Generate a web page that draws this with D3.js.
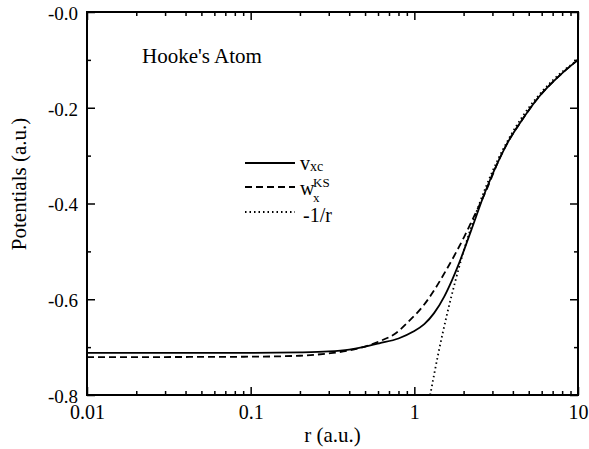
<!DOCTYPE html>
<html>
<head>
<meta charset="utf-8">
<script src="https://cdn.jsdelivr.net/npm/d3@7"></script>
<style>
  body { margin: 0; background: #fff; }
  text { font-family: "Liberation Serif", "Times New Roman", serif; fill: #000; }
</style>
</head>
<body>
<div id="chart"></div>
<script>
// values
var rVxc = [0.01, 0.03, 0.1, 0.2, 0.3, 0.4, 0.5, 0.61, 0.8, 0.98, 1.15, 1.32, 1.52, 1.7, 1.88, 2.23, 2.7, 3.3, 3.8, 4.37, 5.78, 7.65, 10];
var vxc  = [-0.712, -0.712, -0.712, -0.711, -0.709, -0.705, -0.699, -0.692, -0.682, -0.668, -0.652, -0.629, -0.595, -0.560, -0.524, -0.455, -0.377, -0.308, -0.267, -0.2345, -0.177, -0.134, -0.1];

var rWks = [0.01, 0.1, 0.2, 0.3, 0.4, 0.5, 0.61, 0.77, 0.95, 1.12, 1.3, 1.56, 1.8, 2.02, 2.22, 2.74, 3.3, 3.8, 4.37, 5.78, 7.65, 10];
var wks  = [-0.721, -0.720, -0.718, -0.713, -0.707, -0.699, -0.688, -0.671, -0.642, -0.616, -0.585, -0.540, -0.502, -0.469, -0.440, -0.374, -0.308, -0.267, -0.2345, -0.177, -0.134, -0.1];

var rCoul = [1.25, 1.4, 1.6, 1.8, 2, 2.5, 3, 4, 5, 6, 7, 8, 10];
var coul  = [-0.8, -0.714, -0.625, -0.556, -0.5, -0.4, -0.333, -0.25, -0.2, -0.167, -0.143, -0.125, -0.1];

var xTicks = [0.01, 0.1, 1, 10];
var xTickLabels = ["0.01", "0.1", "1", "10"];
var yTicks = [-0.8, -0.6, -0.4, -0.2, 0];
var yTickLabels = ["-0.8", "-0.6", "-0.4", "-0.2", "-0.0"];
var yMinor = [-0.7, -0.5, -0.3, -0.1];

var W = 589, H = 449;
var margin = {left: 87, top: 12, right: 11, bottom: 54};
var width = W - margin.left - margin.right;
var height = H - margin.top - margin.bottom;

var svg = d3.select("#chart")
  .append("svg")
    .attr("width", W)
    .attr("height", H)
  .append("g")
    .attr("transform", "translate(" + margin.left + "," + margin.top + ")");

var x = d3.scaleLog()
  .domain([0.01, 10])
  .range([0, width]);

var y = d3.scaleLinear()
  .domain([-0.8, 0])
  .range([height, 0]);

// minor log ticks
var xMinor = [];
[0.01, 0.1, 1].forEach(function (dec) {
  for (var k = 2; k <= 9; k++) xMinor.push(dec * k);
});

function styleAxis(g) {
  g.select(".domain").remove();
  g.selectAll("line").attr("stroke", "#000").attr("stroke-width", 1.5);
}

// bottom
svg.append("g")
  .attr("transform", "translate(0," + height + ")")
  .call(d3.axisBottom(x).tickValues(xTicks).tickSize(-8).tickPadding(10)
    .tickFormat(function (d, i) { return xTickLabels[i]; }))
  .call(styleAxis)
  .selectAll("text").style("font-size", "20px");
svg.append("g")
  .attr("transform", "translate(0," + height + ")")
  .call(d3.axisBottom(x).tickValues(xMinor).tickSize(-4).tickFormat(""))
  .call(styleAxis);
// top
svg.append("g")
  .call(d3.axisTop(x).tickValues(xTicks).tickSize(-8).tickFormat(""))
  .call(styleAxis);
svg.append("g")
  .call(d3.axisTop(x).tickValues(xMinor).tickSize(-4).tickFormat(""))
  .call(styleAxis);
// left
svg.append("g")
  .call(d3.axisLeft(y).tickValues(yTicks).tickSize(-8).tickPadding(9)
    .tickFormat(function (d, i) { return yTickLabels[i]; }))
  .call(styleAxis)
  .selectAll("text").style("font-size", "19px").attr("dy", "0.39em");
svg.append("g")
  .call(d3.axisLeft(y).tickValues(yMinor).tickSize(-4).tickFormat(""))
  .call(styleAxis);
// right
svg.append("g")
  .attr("transform", "translate(" + width + ",0)")
  .call(d3.axisRight(y).tickValues(yTicks).tickSize(-8).tickFormat(""))
  .call(styleAxis);
svg.append("g")
  .attr("transform", "translate(" + width + ",0)")
  .call(d3.axisRight(y).tickValues(yMinor).tickSize(-4).tickFormat(""))
  .call(styleAxis);

// frame
svg.append("rect")
  .attr("width", width)
  .attr("height", height)
  .attr("fill", "none")
  .attr("stroke", "#000")
  .attr("stroke-width", 2);

var line = d3.line()
  .x(function (d) { return x(d[0]); })
  .y(function (d) { return y(d[1]); })
  .curve(d3.curveMonotoneX);

function pairs(rs, vs) { return rs.map(function (r, i) { return [r, vs[i]]; }); }

svg.append("path")
  .datum(pairs(rCoul, coul))
  .attr("fill", "none").attr("stroke", "#000")
  .attr("stroke-width", 1.8).attr("stroke-dasharray", "1.5,3")
  .attr("d", line);

svg.append("path")
  .datum(pairs(rWks, wks))
  .attr("fill", "none").attr("stroke", "#000")
  .attr("stroke-width", 1.8).attr("stroke-dasharray", "7,4")
  .attr("d", line);

svg.append("path")
  .datum(pairs(rVxc, vxc))
  .attr("fill", "none").attr("stroke", "#000")
  .attr("stroke-width", 1.8)
  .attr("d", line);

// title inside the plot
svg.append("text")
  .attr("x", 142 - margin.left)
  .attr("y", 63 - margin.top)
  .style("font-size", "21px")
  .text("Hooke's Atom");

// legend
var legend = svg.append("g")
  .attr("transform", "translate(" + (245 - margin.left) + "," + (163 - margin.top) + ")");
var dashes = [null, "7,4", "1.5,3"];
[0, 24, 49].forEach(function (dy, i) {
  legend.append("line")
    .attr("x1", 0).attr("x2", 50)
    .attr("y1", dy).attr("y2", dy)
    .attr("stroke", "#000").attr("stroke-width", 1.8)
    .attr("stroke-dasharray", dashes[i]);
});
function label(tx, ty, size, str) {
  legend.append("text").attr("x", tx).attr("y", ty).style("font-size", size + "px").text(str);
}
label(55, 7, 20, "v");
label(65, 8, 14, "xc");
label(55, 32, 20, "w");
label(68, 39, 13, "x");
label(68, 24, 13, "KS");
label(58, 59, 20, "-1/r");

// axis titles
svg.append("text")
  .attr("x", width / 2)
  .attr("y", height + 47)
  .attr("text-anchor", "middle")
  .style("font-size", "21px")
  .text("r (a.u.)");

svg.append("text")
  .attr("transform", "translate(" + (26 - margin.left) + "," + (184 - margin.top) + ") rotate(-90)")
  .attr("text-anchor", "middle")
  .style("font-size", "21px")
  .text("Potentials (a.u.)");
</script>
</body>
</html>
